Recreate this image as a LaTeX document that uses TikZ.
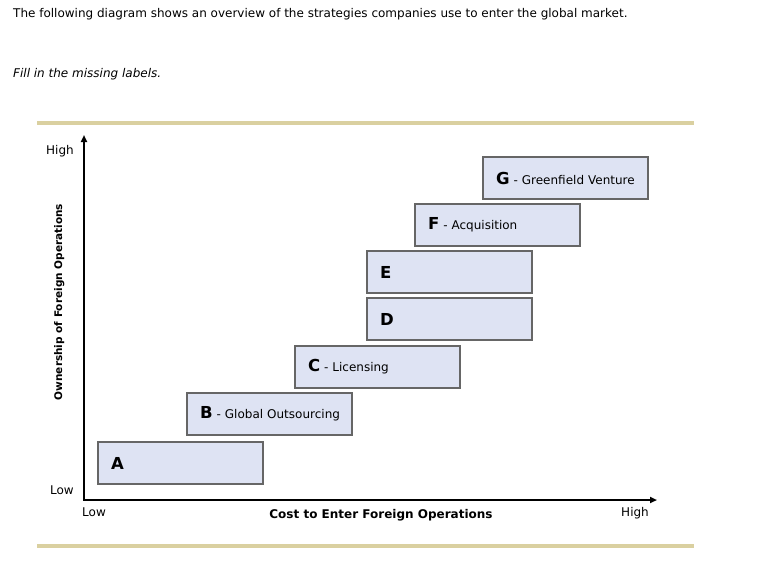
\documentclass[tikz,border=0pt]{standalone}
\usepackage{fontspec}
\setmainfont{DejaVu Sans}
\usetikzlibrary{arrows.meta}
\definecolor{tanline}{RGB}{218,208,160}
\definecolor{boxfill}{RGB}{222,227,243}
\definecolor{boxdraw}{RGB}{102,102,102}
\tikzset{
  stratbox/.style={draw=boxdraw, fill=boxfill, line width=2pt, anchor=north west,
    minimum height=42pt, text width=139pt, inner xsep=13pt, inner ysep=0pt, align=left,
    font=\fontsize{12}{14}\selectfont},
  axisline/.style={line width=2pt, {Triangle[length=7pt,width=6pt]}-{Triangle[length=7pt,width=6pt]}},
  sep/.style={draw=tanline, line width=4pt},
  plain/.style={inner sep=0pt, font=\fontsize{12}{14}\selectfont},
  axlabel/.style={inner sep=0pt, font=\bfseries\fontsize{12}{14}\selectfont},
  ylabel/.style={inner sep=0pt, font=\bfseries\fontsize{10.5}{12}\selectfont},
}
\newcommand{\stratlabel}[2]{\mbox{{\bfseries\fontsize{16.5}{16}\selectfont #1}#2}}
\begin{document}
\begin{tikzpicture}[x=1pt,y=1pt]
\useasboundingbox (0,0) rectangle (783,-582);
\node[plain, anchor=base west] (intro) at (13,-17) {The following diagram shows an overview of the strategies companies use to enter the global market.};
\node[plain, anchor=base west] (fill) at (13,-77) {\itshape Fill in the missing labels.};
\coordinate (t1) at (37,-123); \coordinate (t2) at (694,-123);
\coordinate (b1) at (37,-546); \coordinate (b2) at (694,-546);
\draw[sep] (t1) -- (t2);
\draw[sep] (b1) -- (b2);
\coordinate (ytop) at (84,-135);
\coordinate (o) at (84,-500);
\coordinate (xend) at (657,-500);
\draw[axisline] (ytop) -- (o) -- (xend);
\node[plain, anchor=base east] (yhigh) at (74,-154) {High};
\node[plain, anchor=base east] (ylow) at (74,-494) {Low};
\node[plain, anchor=base west] (xlow) at (82,-516) {Low};
\node[plain, anchor=base east] (xhigh) at (649,-516) {High};
\node[axlabel, anchor=base] (xlab) at (381,-518) {Cost to Enter Foreign Operations};
\node[ylabel, rotate=90, anchor=base] (ylab) at (62,-302) {Ownership of Foreign Operations};
\node[stratbox] (A) at (97,-441) {\stratlabel{A}{}};
\node[stratbox] (B) at (186,-392) {\stratlabel{B}{ - Global Outsourcing}};
\node[stratbox] (C) at (294,-345) {\stratlabel{C}{ - Licensing}};
\node[stratbox] (D) at (366,-297) {\stratlabel{D}{}};
\node[stratbox] (E) at (366,-250) {\stratlabel{E}{}};
\node[stratbox] (F) at (414,-203) {\stratlabel{F}{ - Acquisition}};
\node[stratbox] (G) at (482,-156) {\stratlabel{G}{ - Greenfield Venture}};
\end{tikzpicture}
\end{document}
